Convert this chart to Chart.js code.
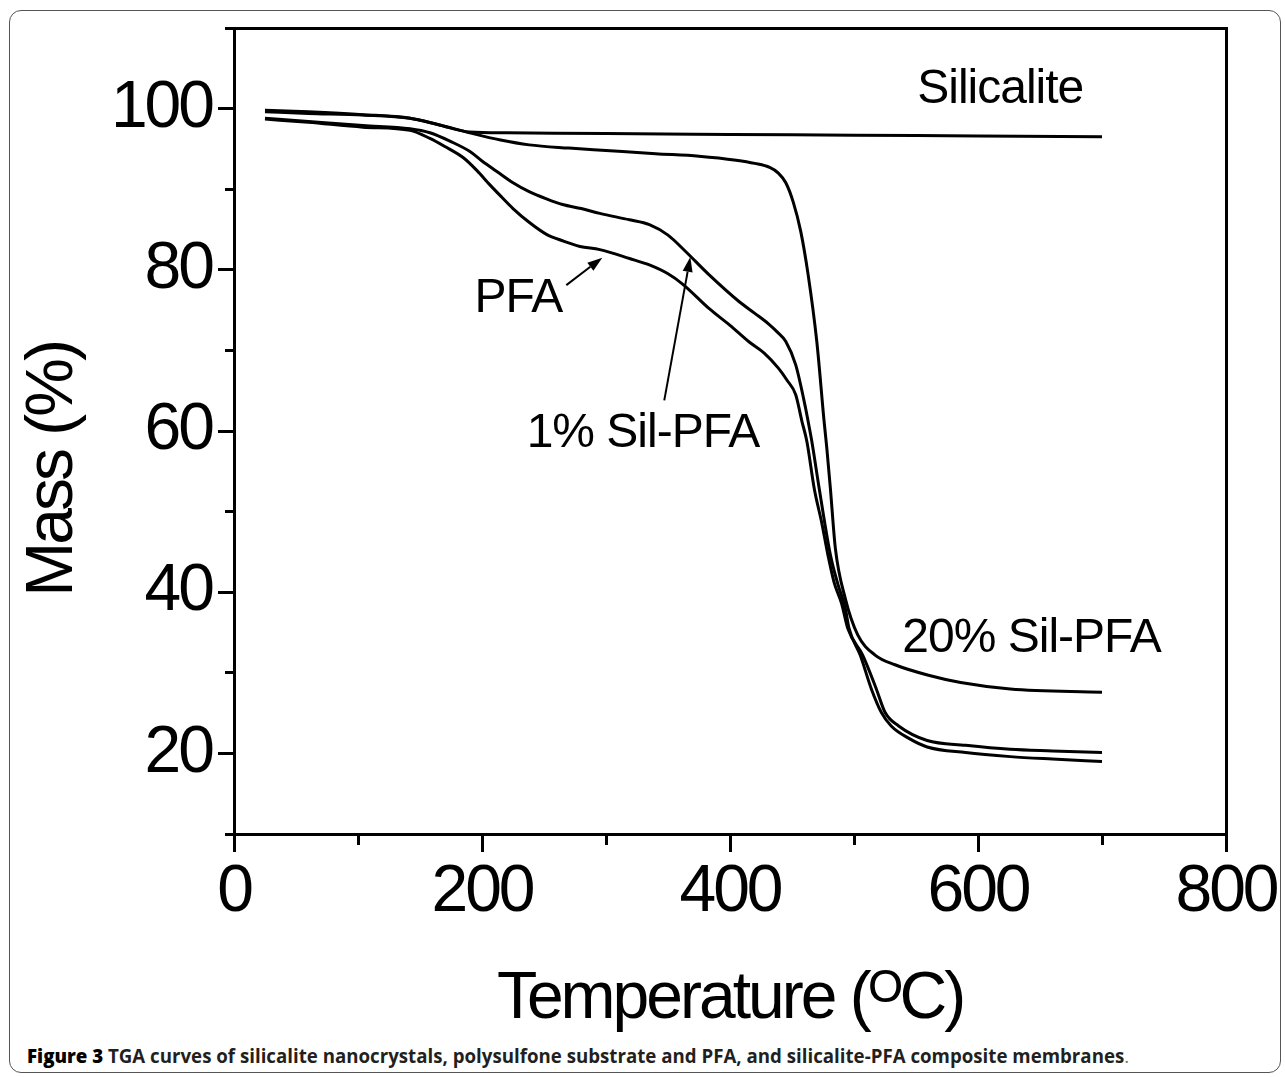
<!DOCTYPE html>
<html>
<head>
<meta charset="utf-8">
<script src="https://cdn.jsdelivr.net/npm/chart.js@4/dist/chart.umd.min.js"></script>
<style>
  html, body { margin: 0; padding: 0; background: #fff; }
  body { width: 1285px; height: 1077px; position: relative; overflow: hidden; }
  #frame { position: absolute; left: 9px; top: 10px; width: 1272px; height: 1063px;
           border: 1.5px solid #555; border-radius: 12px; box-sizing: border-box; }
  #c { position: absolute; left: 0; top: 0; }
  #cap { position: absolute; left: 27px; top: 1045px; line-height: 22px; white-space: nowrap;
         font-family: 'Open Sans', 'Noto Sans', sans-serif; font-weight: bold; font-size: 18.7px; color: #231f20; }
  #cap b { color: #000; }
  #cap .dot { font-weight: normal; color: #777; }
</style>
</head>
<body>
<div id="frame"></div>
<canvas id="c" width="1285" height="1040"></canvas>
<div id="cap"><b>Figure 3</b> TGA curves of silicalite nanocrystals, polysulfone substrate and PFA, and silicalite-PFA composite membranes<span class="dot">.</span></div>
<script>
// ---- data ----
const tempSilicalite = [25, 60, 104, 142, 165, 190, 220, 300, 400, 500, 600, 700];
const massSilicalite = [99.8, 99.6, 99.25, 98.8, 98.0, 97.1, 97.0, 96.9, 96.8, 96.7, 96.6, 96.5];

const tempSil20 = [25, 60, 104, 142, 165, 190, 215, 238, 270, 300, 340, 375, 405, 420, 432, 439, 445, 451, 457, 463, 470, 476, 478, 481, 485, 493, 503, 517, 533, 560, 586, 626, 700];
const massSil20 = [99.6, 99.4, 99.2, 98.8, 98.0, 97.0, 96.1, 95.5, 95.1, 94.8, 94.4, 94.1, 93.6, 93.2, 92.7, 92.0, 90.8, 88.4, 84.8, 79.4, 71.1, 61.0, 58.0, 52.8, 45.4, 39.2, 34.7, 32.2, 31.0, 29.7, 28.8, 28.0, 27.6];

const tempSil1 = [25, 60, 104, 142, 158, 175, 190, 200, 212, 225, 238, 252, 265, 280, 295, 319, 335, 350, 364, 383, 407, 420, 431, 438, 445, 453, 461, 463, 466, 472, 481, 487, 493, 496, 505, 514, 522, 530, 545, 559, 590, 626, 660, 700];
const massSil1 = [98.8, 98.4, 97.9, 97.5, 97.0, 95.9, 94.7, 93.5, 92.2, 90.8, 89.7, 88.8, 88.1, 87.6, 87.0, 86.2, 85.6, 84.3, 82.3, 79.4, 76.1, 74.6, 73.3, 72.3, 71.1, 68.2, 62.8, 61.2, 58.7, 52.8, 44.6, 41.0, 38.0, 35.5, 32.2, 28.0, 25.1, 23.4, 21.8, 20.8, 20.1, 19.6, 19.3, 19.0];

const tempPFA = [25, 60, 104, 142, 158, 170, 185, 196, 206, 216, 225, 238, 252, 265, 279, 295, 319, 335, 350, 362, 383, 400, 415, 428, 439, 446, 453, 458, 462, 468, 474, 479, 484, 490, 495, 507, 518, 525, 536, 559, 590, 626, 660, 700];
const massPFA = [98.7, 98.3, 97.7, 97.3, 96.3, 95.3, 93.9, 92.3, 90.6, 89.0, 87.6, 85.9, 84.4, 83.6, 82.9, 82.5, 81.4, 80.6, 79.5, 78.2, 75.2, 73.1, 71.1, 69.6, 67.8, 66.3, 64.5, 61.2, 58.7, 52.8, 48.6, 44.6, 41.2, 38.6, 35.5, 32.2, 28.0, 25.1, 23.4, 21.6, 21.0, 20.5, 20.3, 20.1];

const xTickValues = [0, 200, 400, 600, 800];
const yTickValues = [20, 40, 60, 80, 100];

// annotation labels (data coordinates)
const labelTexts = ['Silicalite', 'PFA', '1% Sil-PFA', '20% Sil-PFA'];
const labelTemp = [551, 194, 236, 539];
const labelMass = [100.7, 74.8, 58.0, 32.6];
// arrows (data coordinates)
const arrowFromTemp = [268, 347];
const arrowFromMass = [78.1, 63.8];
const arrowToTemp = [297, 368];
const arrowToMass = [81.5, 81.6];

function pts(t, m) { return t.map((v, i) => ({ x: v, y: m[i] })); }

const FONT = "'Liberation Sans', Arial, 'DejaVu Sans', sans-serif";

const spacingPlugin = {
  id: 'spacing',
  beforeDraw(chart) { chart.ctx.letterSpacing = '-3px'; },
  beforeDatasetsDraw(chart) { chart.ctx.letterSpacing = '0px'; }
};

const annotationPlugin = {
  id: 'annotations',
  afterDraw(chart) {
    const ctx = chart.ctx, xs = chart.scales.x, ys = chart.scales.y;
    ctx.save();
    ctx.letterSpacing = '-1px';
    ctx.fillStyle = '#000';
    ctx.font = '48px ' + FONT;
    ctx.textAlign = 'left';
    ctx.textBaseline = 'alphabetic';
    labelTexts.forEach((t, i) => {
      ctx.fillText(t, xs.getPixelForValue(labelTemp[i]), ys.getPixelForValue(labelMass[i]));
    });
    ctx.strokeStyle = '#000';
    ctx.lineWidth = 2;
    for (let i = 0; i < arrowFromTemp.length; i++) {
      const x1 = xs.getPixelForValue(arrowFromTemp[i]), y1 = ys.getPixelForValue(arrowFromMass[i]);
      const x2 = xs.getPixelForValue(arrowToTemp[i]), y2 = ys.getPixelForValue(arrowToMass[i]);
      const a = Math.atan2(y2 - y1, x2 - x1);
      const L = 15, W = 5;
      const bx = x2 - L * Math.cos(a), by = y2 - L * Math.sin(a);
      ctx.beginPath(); ctx.moveTo(x1, y1); ctx.lineTo(bx, by); ctx.stroke();
      ctx.beginPath();
      ctx.moveTo(x2, y2);
      ctx.lineTo(bx + W * Math.sin(a), by - W * Math.cos(a));
      ctx.lineTo(bx - W * Math.sin(a), by + W * Math.cos(a));
      ctx.closePath(); ctx.fill();
    }
    ctx.restore();
  }
};

const noPad = s => { s.paddingTop = 0; s.paddingBottom = 0; s.paddingLeft = 0; s.paddingRight = 0; };

const lineStyle = { borderColor: '#000', borderWidth: 3, pointRadius: 0, fill: false, cubicInterpolationMode: 'monotone' };

new Chart(document.getElementById('c'), {
  type: 'line',
  data: {
    datasets: [
      Object.assign({ label: 'Silicalite', data: pts(tempSilicalite, massSilicalite) }, lineStyle),
      Object.assign({ label: '20% Sil-PFA', data: pts(tempSil20, massSil20) }, lineStyle),
      Object.assign({ label: '1% Sil-PFA', data: pts(tempSil1, massSil1) }, lineStyle),
      Object.assign({ label: 'PFA', data: pts(tempPFA, massPFA) }, lineStyle)
    ]
  },
  plugins: [spacingPlugin, annotationPlugin],
  options: {
    responsive: false,
    animation: false,
    devicePixelRatio: 1,
    layout: { padding: { left: 0, top: 28, right: 59, bottom: 0 } },
    plugins: { legend: { display: false }, tooltip: { enabled: false } },
    scales: {
      x: {
        type: 'linear', position: 'bottom', min: 0, max: 800, weight: 1,
        afterBuildTicks: s => { s.ticks = xTickValues.map(v => ({ value: v })); },
        afterFit: s => { s.height = 206; noPad(s); },
        ticks: { color: '#000', font: { family: FONT, size: 66 }, padding: 1, maxRotation: 0, autoSkip: false,
                 callback: v => String(v) },
        grid: { drawOnChartArea: false, drawTicks: true, tickLength: 18, tickWidth: 3, tickColor: '#000' },
        border: { display: true, color: '#000', width: 3 },
        title: { display: true, text: 'Temperature (\u1D3CC)', color: '#000',
                 font: { family: FONT, size: 66 }, padding: { top: 0, bottom: 1 } }
      },
      xMinor: {
        type: 'linear', position: 'bottom', min: 0, max: 800, weight: 0,
        afterFit: s => { s.height = 0; noPad(s); },
        ticks: { display: false, stepSize: 100 },
        grid: { drawOnChartArea: false, drawTicks: true, tickLength: 11, tickWidth: 3, tickColor: '#000' },
        border: { display: false }
      },
      xTop: {
        type: 'linear', position: 'top', min: 0, max: 800,
        afterFit: s => { s.height = 0; noPad(s); },
        ticks: { display: false },
        grid: { drawOnChartArea: false, drawTicks: false },
        border: { display: true, color: '#000', width: 3 }
      },
      y: {
        type: 'linear', position: 'left', min: 10, max: 110, weight: 1,
        afterBuildTicks: s => { s.ticks = yTickValues.map(v => ({ value: v })); },
        afterFit: s => { s.width = 234; noPad(s); },
        ticks: { color: '#000', font: { family: FONT, size: 66 }, padding: 6, callback: v => String(v) },
        grid: { drawOnChartArea: false, drawTicks: true, tickLength: 16, tickWidth: 3, tickColor: '#000' },
        border: { display: true, color: '#000', width: 3 },
        title: { display: true, text: 'Mass (%)\u00a0\u00a0\u00a0\u00a0\u00a0', color: '#000',
                 font: { family: FONT, size: 66 }, padding: { top: 14, bottom: 0 } }
      },
      yMinor: {
        type: 'linear', position: 'left', min: 10, max: 110, weight: 0,
        afterFit: s => { s.width = 0; noPad(s); },
        ticks: { display: false, stepSize: 10 },
        grid: { drawOnChartArea: false, drawTicks: true, tickLength: 9, tickWidth: 3, tickColor: '#000' },
        border: { display: false }
      },
      yRight: {
        type: 'linear', position: 'right', min: 10, max: 110,
        afterFit: s => { s.width = 0; noPad(s); },
        ticks: { display: false },
        grid: { drawOnChartArea: false, drawTicks: false },
        border: { display: true, color: '#000', width: 3 }
      }
    }
  }
});
</script>
</body>
</html>
